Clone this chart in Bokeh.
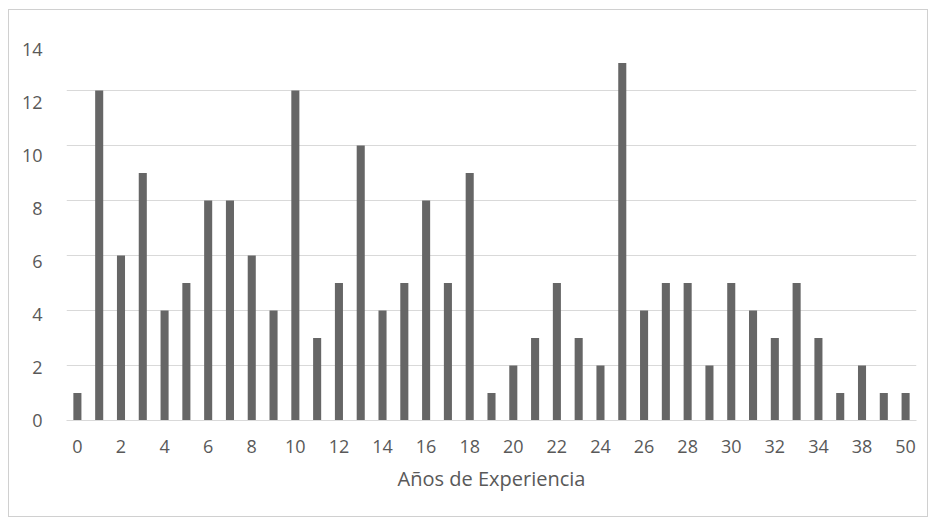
from bokeh.plotting import figure
from bokeh.models import Range1d, FixedTicker, LinearAxis
from bokeh.embed import file_html
from bokeh.resources import INLINE

years = ["0", "1", "2", "3", "4", "5", "6", "7", "8", "9", "10", "11", "12", "13",
         "14", "15", "16", "17", "18", "19", "20", "21", "22", "23", "24", "25", "26",
         "27", "28", "29", "30", "31", "32", "33", "34", "35", "38", "40", "50"]
counts = [1, 12, 6, 9, 4, 5, 8, 8, 6, 4, 12, 3, 5, 10, 4, 5, 8, 5, 9, 1, 2, 3, 5, 3,
          2, 13, 4, 5, 5, 2, 5, 4, 3, 5, 3, 1, 2, 1, 1]
y_ticks = [0, 2, 4, 6, 8, 10, 12, 14]
x_title = "Años de Experiencia"

FONT = "Open Sans"
LABEL = "#595959"

pos = list(range(len(years)))

p = figure(width=920, height=508, x_range=Range1d(-0.5, len(years) - 0.5),
           y_range=Range1d(0, 14),
           output_backend="svg", toolbar_location=None,
           min_border_left=57, min_border_right=13, min_border_top=25, min_border_bottom=98)
p.styles = {"border": "1px solid #d0d0d0", "margin-left": "8px", "margin-top": "9px"}

# the scanned reference's value labels sit on a slightly tighter scale than its gridlines
p.extra_y_ranges = {"labels": Range1d(0, 14.53)}

p.vbar(x=pos, top=counts, width=0.37, fill_color="#666666", line_color=None)

p.outline_line_color = None
p.xgrid.grid_line_color = None
p.ygrid.grid_line_color = "#d9d9d9"
p.ygrid.grid_line_width = 1
p.yaxis.ticker = FixedTicker(ticks=y_ticks)
p.yaxis.visible = False

lab_axis = LinearAxis(y_range_name="labels", ticker=FixedTicker(ticks=y_ticks))
p.add_layout(lab_axis, "left")

p.xaxis.ticker = FixedTicker(ticks=pos[::2])
p.xaxis.major_label_overrides = {i: years[i] for i in pos}

for ax in (p.xaxis[0], lab_axis):
    ax.major_tick_line_color = None
    ax.minor_tick_line_color = None
    ax.major_label_text_font = FONT
    ax.major_label_text_font_size = "18px"
    ax.major_label_text_color = LABEL
    ax.axis_label_text_font = FONT

lab_axis.axis_line_color = None
lab_axis.major_label_standoff = 18
p.xaxis.axis_line_color = "#d9d9d9"
p.xaxis.major_label_standoff = 13
p.xaxis.axis_label = x_title
p.xaxis.axis_label_text_font_size = "20px"
p.xaxis.axis_label_text_font_style = "normal"
p.xaxis.axis_label_text_color = LABEL
p.xaxis.axis_label_standoff = 9

open("out.html", "w").write(file_html(p, INLINE))
